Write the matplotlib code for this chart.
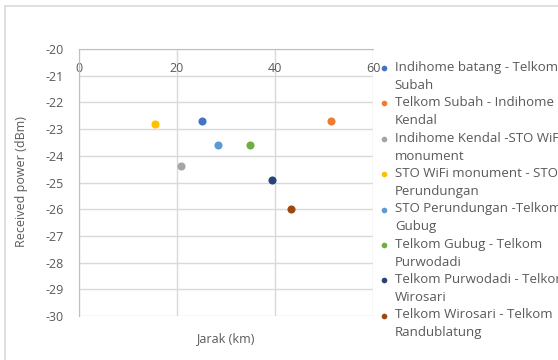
import matplotlib.pyplot as plt
from matplotlib.patches import Rectangle
from matplotlib.collections import PathCollection
from matplotlib.legend_handler import HandlerPathCollection

# jarak (km) dan daya terima (dBm) tiap link
links = [
    "Indihome batang - Telkom\nSubah",
    "Telkom Subah - Indihome\nKendal",
    "Indihome Kendal -STO WiFi\nmonument",
    "STO WiFi monument - STO\nPerundungan",
    "STO Perundungan -Telkom\nGubug",
    "Telkom Gubug - Telkom\nPurwodadi",
    "Telkom Purwodadi - Telkom\nWirosari",
    "Telkom Wirosari - Telkom\nRandublatung",
]
jarak = [25.2, 51.4, 20.9, 15.6, 28.3, 34.8, 39.3, 43.3]
daya = [-22.7, -22.7, -24.4, -22.8, -23.6, -23.6, -24.9, -26.0]
warna = ["#4472C4", "#ED7D31", "#A5A5A5", "#FFC000",
         "#5B9BD5", "#70AD47", "#264478", "#9E480E"]

x_ticks = [0, 20, 40, 60]
y_ticks = list(range(-30, -19))

plt.rcParams["font.family"] = ["Open Sans", "DejaVu Sans"]
plt.rcParams["axes.unicode_minus"] = False
abu = "#595959"

fig = plt.figure(figsize=(5.58, 3.6), dpi=100)
W, H = 558, 360

# bingkai chart
fig.patches.append(Rectangle((5 / W, -0.1), 1.1, 1 - 6 / H + 0.1,
                             transform=fig.transFigure, fill=False,
                             edgecolor="#d9d9d9", linewidth=1.2))

ax = fig.add_axes([79 / W, 1 - 316 / H, 294 / W, 267 / H])

for i in range(len(links)):
    ax.scatter(jarak[i], daya[i], s=34, color=warna[i], label=links[i],
               zorder=3, linewidths=0)

ax.set_xlim(0, 60)
ax.set_ylim(-30, -20)
ax.set_xticks(x_ticks)
ax.set_yticks(y_ticks)
ax.grid(True, color="#d9d9d9", linewidth=1)
ax.set_axisbelow(True)
for s in ["right", "bottom"]:
    ax.spines[s].set_visible(False)
for s in ["left", "top"]:
    ax.spines[s].set_color("#bfbfbf")

ax.tick_params(axis="x", top=True, bottom=False, labeltop=True,
               labelbottom=False, length=0, pad=-19, labelsize=9,
               labelcolor=abu)
ax.tick_params(axis="y", length=0, pad=11, labelsize=9, labelcolor=abu)

ax.set_xlabel("Jarak (km)", fontsize=9, color=abu)
ax.xaxis.set_label_coords(0.497, -0.06)
ax.set_ylabel("Received power (dBm)", fontsize=9, color=abu)
ax.yaxis.set_label_coords(-0.173, 0.505)

# marker legend sejajar baris pertama label
leg = ax.legend(loc="upper left", bbox_to_anchor=(381 / W, 1 - 61 / H),
                bbox_transform=fig.transFigure, frameon=False, fontsize=9.5,
                labelcolor=abu, handlelength=0.4, handletextpad=0.65,
                borderpad=0, borderaxespad=0, labelspacing=0.33,
                markerscale=0.7,
                handler_map={PathCollection: HandlerPathCollection(yoffsets=[1.45])})
for t in leg.get_texts():
    t.set_linespacing(1.5)

fig.savefig("out.png", dpi=100)
